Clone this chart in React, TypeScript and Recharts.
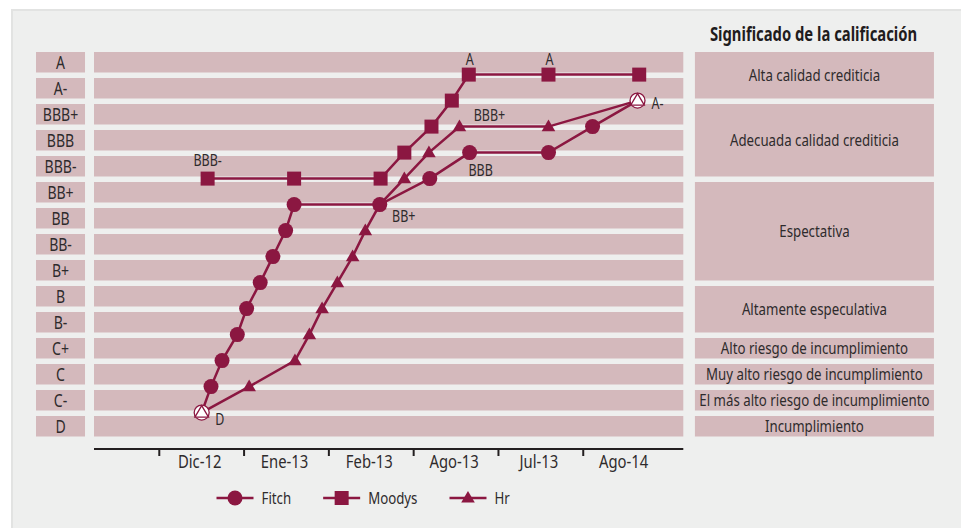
import React from 'react';
import { LineChart, Line, XAxis, YAxis, ReferenceArea, Legend, LabelList } from 'recharts';

// ---------- data ----------
// rating scale: index = score (D = 0 ... A = 14)
const ratings = ['D', 'C-', 'C', 'C+', 'B-', 'B', 'B+', 'BB-', 'BB', 'BB+', 'BBB-', 'BBB', 'BBB+', 'A-', 'A'];
const categories = ['Dic-12', 'Ene-13', 'Feb-13', 'Ago-13', 'Jul-13', 'Ago-14'];
const seriesNames = ['Fitch', 'Moodys', 'Hr'];

const meaningTexts = [
  'Alta calidad crediticia',
  'Adecuada calidad crediticia',
  'Espectativa',
  'Altamente especulativa',
  'Alto riesgo de incumplimiento',
  'Muy alto riesgo de incumplimiento',
  'El más alto riesgo de incumplimiento',
  'Incumplimiento',
];
const meaningFrom = [13, 10, 6, 4, 3, 2, 1, 0];
const meaningTo = [14, 12, 9, 5, 3, 2, 1, 0];

// x position measured in category units (Dic-12 = 0, Ene-13 = 1, ...)
const fitchPos = [0.0, 0.11, 0.24, 0.42, 0.53, 0.69, 0.84, 0.99, 1.09, 2.1, 2.69, 3.16, 4.09, 4.61, 5.14];
const fitchScore = [1, 2, 3, 4, 5, 6, 7, 8, 9, 9, 10, 11, 11, 12, 13];
const fitchLabels = ['D', '', '', '', '', '', '', '', '', 'BB+', '', 'BBB', '', '', ''];

const moodysPos = [0.07, 1.09, 2.11, 2.39, 2.71, 2.95, 3.15, 4.09, 5.16];
const moodysScore = [10, 10, 10, 11, 12, 13, 14, 14, 14];
const moodysLabels = ['BBB-', '', '', '', '', '', 'A', 'A', ''];

const hrPos = [0.0, 0.56, 1.1, 1.27, 1.42, 1.6, 1.78, 1.93, 2.1, 2.39, 2.68, 3.04, 4.09, 5.14];
const hrScore = [1, 2, 3, 4, 5, 6, 7, 8, 9, 10, 11, 12, 12, 13];
const hrLabels = ['', '', '', '', '', '', '', '', '', '', '', 'BBB+', '', 'A-'];

// ---------- styling / layout ----------
const W = 961;
const H = 528;
const PLOT_LEFT = 94;
const PLOT_RIGHT = 683.3;
const PLOT_TOP = 48.6;
const PLOT_BOTTOM = 449;
const X_DOMAIN: [number, number] = [-1.27, 5.68];
const Y_DOMAIN: [number, number] = [-0.4, 15];
const UNIT_PX = (PLOT_RIGHT - PLOT_LEFT) / (X_DOMAIN[1] - X_DOMAIN[0]);
const LEFT_BOX: [number, number] = [-1.954, -1.376];
const RIGHT_BOX: [number, number] = [5.817, 8.636];
const BAND_LO = 0.08;
const BAND_HI = 0.87;

const FONT = "'Noto Sans', 'Open Sans', 'DejaVu Sans', sans-serif";
const SX = 0.78; // horizontal condensing to emulate a condensed face
const LINE = '#8b1741';
const BAND = '#d4b9bc';
const TEXT = '#2e2b2c';
const PANEL = '#eeefee';

const LABEL_OFFSETS: Record<string, [number, number]> = {
  D: [18, 7],
  'BB+': [24, 12],
  BBB: [11, 18],
  'BBB-': [0, -18],
  A: [1, -15],
  'BBB+': [30, -11],
  'A-': [20, 3],
};

const build = (pos: number[], score: number[], labels: string[]) =>
  pos.map((x, i) => ({ x, y: score[i], label: labels[i] }));

const fitchData = build(fitchPos, fitchScore, fitchLabels);
const moodysData = build(moodysPos, moodysScore, moodysLabels);
const hrData = build(hrPos, hrScore, hrLabels);

// condensed text, vertically centred on cy (cap-height centre)
const NText = ({ x, cy, size, anchor = 'middle', weight = 'normal', fill = TEXT, children }: any) => (
  <text
    transform={`translate(${x},${cy + size * 0.357}) scale(${SX},1)`}
    textAnchor={anchor}
    fontFamily={FONT}
    fontSize={size}
    fontWeight={weight}
    fill={fill}
  >
    {children}
  </text>
);

let measureCtx: CanvasRenderingContext2D | null = null;
const measure = (t: string, size: number, weight = 'normal') => {
  if (typeof document === 'undefined') return t.length * size * 0.45;
  if (!measureCtx) measureCtx = document.createElement('canvas').getContext('2d');
  if (!measureCtx) return t.length * size * 0.45;
  measureCtx.font = `${weight} ${size}px ${FONT}`;
  return measureCtx.measureText(t).width * SX;
};

type Shape = 'circle' | 'square' | 'triangle';

const marker = (shape: Shape, cx: number, cy: number, hollow: boolean, key?: string) => {
  const fill = hollow ? '#ffffff' : LINE;
  const stroke = LINE;
  const sw = hollow ? 1.3 : 0;
  if (shape === 'circle') return <circle key={key} cx={cx} cy={cy} r={7.5} fill={fill} stroke={stroke} strokeWidth={sw} />;
  if (shape === 'square') return <rect key={key} x={cx - 7} y={cy - 7} width={14} height={14} fill={fill} />;
  const pts = `${cx},${cy - 7} ${cx - 6.8},${cy + 4.6} ${cx + 6.8},${cy + 4.6}`;
  return <polygon key={key} points={pts} fill={fill} stroke={stroke} strokeWidth={sw} />;
};

const makeDot = (shape: Shape, len: number, hollowEnds: boolean) => (props: any) => {
  const { cx, cy, index } = props;
  if (cx == null || cy == null) return <g key={`d-${index}`} />;
  const hollow = hollowEnds && (index === 0 || index === len - 1);
  return marker(shape, cx, cy, hollow, `d-${shape}-${index}`);
};

const renderLabel = (props: any) => {
  const { x, y, value, index } = props;
  if (!value) return <g key={`l-${index}`} />;
  const off = LABEL_OFFSETS[value] || [0, -14];
  return (
    <g key={`l-${index}-${value}`}>
      <NText x={x + off[0]} cy={y + off[1]} size={16}>
        {value}
      </NText>
    </g>
  );
};

const BoxLabel = (props: any) => {
  const { viewBox, text, size } = props;
  if (!viewBox) return null;
  const { x, y, width, height } = viewBox;
  return (
    <NText x={x + width / 2} cy={y + height / 2} size={size}>
      {text}
    </NText>
  );
};

const XTick = (props: any) => {
  const { x, y, payload } = props;
  const tx = x - UNIT_PX / 2;
  return (
    <g>
      <line x1={tx} y1={y} x2={tx} y2={y + 7} stroke="#231f20" strokeWidth={2} />
      <NText x={x - 2} cy={y + 12.5} size={19}>
        {categories[payload.value]}
      </NText>
    </g>
  );
};

const shapeOf: Record<string, Shape> = { Fitch: 'circle', Moodys: 'square', Hr: 'triangle' };

const renderLegend = (props: any) => {
  const payload = [...(props.payload || [])].sort(
    (a: any, b: any) => seriesNames.indexOf(a.value) - seriesNames.indexOf(b.value)
  );
  let cursor = 216.5;
  const items = payload.map((e: any, i: number) => {
    const x0 = cursor;
    const tw = measure(String(e.value), 17);
    cursor = x0 + 37 + 8 + tw + 32;
    return (
      <g key={`lg-${i}`}>
        <line x1={x0} y1={12} x2={x0 + 37} y2={12} stroke={LINE} strokeWidth={2.5} />
        {marker(shapeOf[e.value] || 'circle', x0 + 18.5, 12, false)}
        <NText x={x0 + 45} cy={12} size={17} anchor="start">
          {e.value}
        </NText>
      </g>
    );
  });
  return (
    <svg width={W} height={26} style={{ display: 'block' }}>
      {items}
    </svg>
  );
};

export default function App() {
  return (
    <div style={{ position: 'absolute', left: 0, top: 0, width: W, height: H, background: '#ffffff', overflow: 'hidden' }}>
      <div
        style={{
          position: 'absolute',
          left: 11,
          top: 9,
          width: W - 11,
          height: H - 9,
          background: PANEL,
          borderLeft: '2px solid #e2e3e2',
          borderTop: '2px solid #e2e3e2',
          boxSizing: 'border-box',
        }}
      />
      <svg style={{ position: 'absolute', left: 0, top: 0 }} width={W} height={48}>
        <NText x={813.5} cy={34.5} size={19} weight="bold" fill="#1f1c1d">
          Significado de la calificación
        </NText>
      </svg>
      <div style={{ position: 'absolute', left: 0, top: 0 }}>
        <LineChart
          width={W}
          height={H}
          margin={{ top: PLOT_TOP, left: PLOT_LEFT, right: W - PLOT_RIGHT, bottom: H - PLOT_BOTTOM - 40 }}
        >
          <XAxis
            type="number"
            dataKey="x"
            domain={X_DOMAIN}
            allowDataOverflow
            ticks={[0, 1, 2, 3, 4, 5]}
            tick={<XTick />}
            tickLine={false}
            tickSize={0}
            tickMargin={0}
            height={40}
            axisLine={{ stroke: '#231f20', strokeWidth: 2 }}
            interval={0}
          />
          <YAxis type="number" dataKey="y" domain={Y_DOMAIN} allowDataOverflow hide />

          {ratings.map((r, i) => (
            <ReferenceArea
              key={`band-${r}`}
              y1={i + BAND_LO}
              y2={i + BAND_HI}
              fill={BAND}
              fillOpacity={1}
              stroke="none"
              ifOverflow="visible"
            />
          ))}
          {ratings.map((r, i) => (
            <ReferenceArea
              key={`lab-${r}`}
              x1={LEFT_BOX[0]}
              x2={LEFT_BOX[1]}
              y1={i + BAND_LO}
              y2={i + BAND_HI}
              fill={BAND}
              fillOpacity={1}
              stroke="none"
              ifOverflow="visible"
              label={<BoxLabel text={r} size={18} />}
            />
          ))}
          {meaningTexts.map((t, i) => (
            <ReferenceArea
              key={`mean-${i}`}
              x1={RIGHT_BOX[0]}
              x2={RIGHT_BOX[1]}
              y1={meaningFrom[i] + BAND_LO}
              y2={meaningTo[i] + BAND_HI}
              fill={BAND}
              fillOpacity={1}
              stroke="none"
              ifOverflow="visible"
              label={<BoxLabel text={t} size={17} />}
            />
          ))}

          <Line
            data={fitchData}
            dataKey="y"
            name="Fitch"
            stroke={LINE}
            strokeWidth={2.5}
            dot={makeDot('circle', fitchData.length, true)}
            activeDot={false}
            isAnimationActive={false}
          >
            <LabelList dataKey="label" content={renderLabel} />
          </Line>
          <Line
            data={moodysData}
            dataKey="y"
            name="Moodys"
            stroke={LINE}
            strokeWidth={2.5}
            dot={makeDot('square', moodysData.length, false)}
            activeDot={false}
            isAnimationActive={false}
          >
            <LabelList dataKey="label" content={renderLabel} />
          </Line>
          <Line
            data={hrData}
            dataKey="y"
            name="Hr"
            stroke={LINE}
            strokeWidth={2.5}
            dot={makeDot('triangle', hrData.length, true)}
            activeDot={false}
            isAnimationActive={false}
          >
            <LabelList dataKey="label" content={renderLabel} />
          </Line>

          <Legend
            layout="horizontal"
            verticalAlign="middle"
            align="center"
            content={renderLegend}
            wrapperStyle={{ left: 0, top: 486, width: W }}
          />
        </LineChart>
      </div>
    </div>
  );
}
